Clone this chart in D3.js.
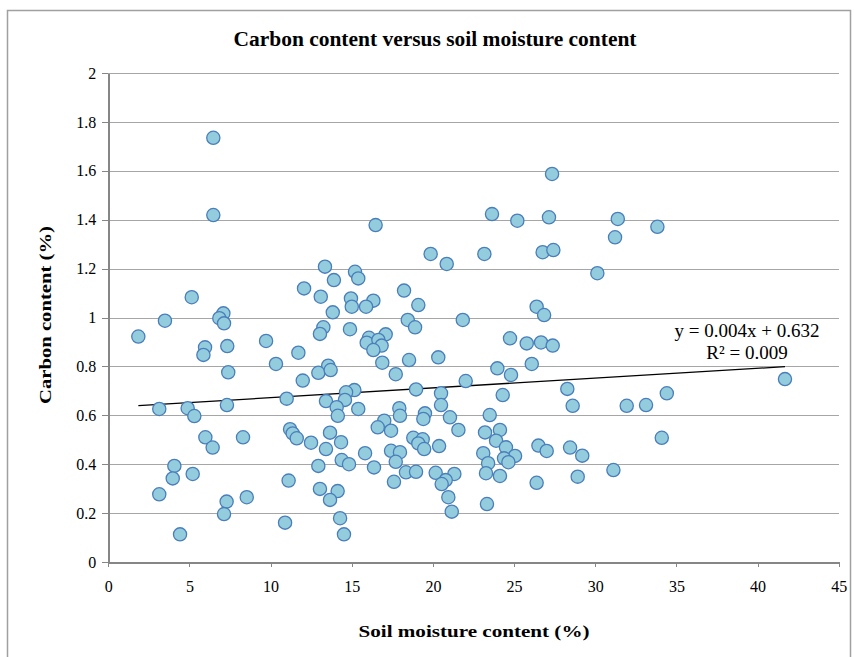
<!DOCTYPE html>
<html>
<head>
	<title>Carbon content versus soil moisture content</title>
	<meta charset="utf-8" />
	<script src="https://d3js.org/d3.v7.min.js"></script>
<style>
	body { margin: 0; background: #fff; }
	svg text { font-family: "Liberation Serif", "Times New Roman", Times, serif; fill: #000; }
	.grid line { stroke: #a6a6a6; stroke-width: 1; shape-rendering: crispEdges; }
	.grid path { stroke-width: 0; }
	.axis path, .axis line { stroke: #868686; shape-rendering: crispEdges; }
	.axis path { stroke-width: 2; }
</style>
</head>
<body>
<script>
// soil moisture (%) of each sample
var moisture = [6.47, 6.47, 5.14, 12.06, 16.47, 13.35, 15.2, 15.4, 13.9, 13.09,
	14.95, 16.33, 13.83, 15.0, 15.88, 18.22, 19.1, 19.86, 20.85, 23.17,
	23.64, 25.2, 27.34, 27.15, 26.76, 27.42, 31.39, 31.22, 33.83, 30.13,
	26.39, 26.85, 1.85, 3.49, 7.09, 6.84, 7.13, 5.96, 5.86, 7.33,
	7.39, 9.72, 10.33, 11.71, 11.98, 3.14, 4.89, 5.30, 7.31, 10.99,
	5.98, 6.43, 8.30, 11.2, 11.36, 11.61, 4.07, 3.97, 5.20, 3.14,
	7.29, 7.13, 8.53, 11.11, 10.89, 4.42, 18.45, 18.9, 21.84, 13.25,
	13.04, 14.89, 16.06, 15.92, 17.09, 16.64, 16.84, 16.33, 16.88, 18.53,
	20.33, 17.71, 13.55, 12.94, 13.70, 22.02, 18.96, 20.50, 20.50, 15.16,
	14.65, 14.58, 13.41, 14.07, 14.14, 15.40, 17.93, 17.97, 19.51, 19.41,
	21.05, 17.0, 16.6, 17.42, 21.57, 23.5, 23.21, 12.49, 13.66, 13.41,
	14.34, 15.82, 14.38, 14.83, 12.94, 16.37, 17.42, 17.97, 17.71, 18.79,
	19.37, 19.1, 19.46, 20.38, 23.1, 23.4, 23.27, 18.34, 18.96, 20.17,
	21.32, 20.79, 20.54, 17.6, 13.04, 14.13, 13.66, 20.95, 21.16, 14.28,
	14.52, 23.33, 24.75, 25.78, 26.66, 27.38, 23.97, 24.81, 26.09, 28.28,
	24.3, 28.61, 31.94, 33.13, 34.41, 24.13, 23.89, 24.5, 25.06, 24.38,
	24.65, 24.13, 26.5, 27.01, 28.45, 29.2, 26.39, 28.92, 31.12, 34.1,
	41.69];

// carbon content (%) of each sample
var carbon = [1.735, 1.419, 1.083, 1.119, 1.378, 1.208, 1.187, 1.160, 1.153, 1.085,
	1.078, 1.069, 1.021, 1.044, 1.044, 1.110, 1.051, 1.26, 1.219, 1.26,
	1.423, 1.396, 1.587, 1.41, 1.267, 1.276, 1.403, 1.328, 1.371, 1.181,
	1.044, 1.010, 0.922, 0.987, 1.017, 0.997, 0.976, 0.878, 0.847, 0.883,
	0.776, 0.904, 0.810, 0.856, 0.742, 0.626, 0.629, 0.597, 0.642, 0.668,
	0.510, 0.468, 0.510, 0.543, 0.526, 0.506, 0.393, 0.342, 0.360, 0.277,
	0.247, 0.196, 0.265, 0.333, 0.161, 0.113, 0.990, 0.960, 0.990, 0.960,
	0.933, 0.952, 0.917, 0.897, 0.931, 0.908, 0.885, 0.867, 0.815, 0.826,
	0.837, 0.768, 0.803, 0.774, 0.785, 0.740, 0.706, 0.690, 0.642, 0.703,
	0.694, 0.663, 0.658, 0.633, 0.598, 0.626, 0.629, 0.598, 0.608, 0.585,
	0.592, 0.578, 0.551, 0.537, 0.540, 0.601, 0.530, 0.488, 0.529, 0.462,
	0.490, 0.445, 0.417, 0.400, 0.393, 0.387, 0.455, 0.449, 0.410, 0.508,
	0.502, 0.485, 0.462, 0.474, 0.445, 0.404, 0.363, 0.367, 0.369, 0.365,
	0.360, 0.335, 0.319, 0.328, 0.299, 0.290, 0.254, 0.265, 0.206, 0.179,
	0.113, 0.237, 0.915, 0.894, 0.898, 0.885, 0.792, 0.765, 0.810, 0.708,
	0.683, 0.639, 0.639, 0.642, 0.690, 0.540, 0.496, 0.469, 0.434, 0.424,
	0.408, 0.352, 0.476, 0.454, 0.468, 0.435, 0.324, 0.349, 0.376, 0.508,
	0.748];

var xTicks = [0, 5, 10, 15, 20, 25, 30, 35, 40, 45];
var yTicks = [0, 0.2, 0.4, 0.6, 0.8, 1, 1.2, 1.4, 1.6, 1.8, 2];

// linear trend (Excel)
var slope = 0.004, intercept = 0.632, r2 = 0.009;

var serif = '"Liberation Serif", "Times New Roman", Times, serif';

var svg = d3.select("body")
	.append("svg")
	.attr("width", 854)
	.attr("height", 657);

// chart frame
svg.append("rect")
	.attr("x", 7.5).attr("y", 10.5)
	.attr("width", 843).attr("height", 700)
	.attr("fill", "#fff")
	.attr("stroke", "#a0a0a0")
	.attr("stroke-width", 1.5);

var margin = {top: 73, left: 108.3},
	width = 730.4,
	height = 489,
	g = svg.append("g").attr("transform", "translate(" + margin.left + "," + margin.top + ")");

var x = d3.scaleLinear().domain([0, 45]).range([0, width]);
var y = d3.scaleLinear().domain([0, 2]).range([height, 0]);

// horizontal grid lines
g.append("g")
	.attr("class", "grid")
	.call(d3.axisLeft(y).tickValues(yTicks).tickSize(-width).tickFormat(""));

// ejes
var yAxis = g.append("g")
	.attr("class", "axis")
	.attr("font-family", serif)
	.call(d3.axisLeft(y).tickValues(yTicks).tickSizeInner(6).tickSizeOuter(0).tickPadding(6)
		.tickFormat(function (d) { return String(+d.toFixed(1)); }));
yAxis.selectAll("text").style("font-size", "16px").style("font-family", serif);

var xAxis = g.append("g")
	.attr("class", "axis")
	.attr("font-family", serif)
	.attr("transform", "translate(0," + height + ")")
	.call(d3.axisBottom(x).tickValues(xTicks).tickSizeInner(5).tickSizeOuter(0).tickPadding(14));
xAxis.selectAll("text").style("font-size", "16px").style("font-family", serif);

// trend line
var xs = d3.extent(moisture);
g.append("line")
	.attr("x1", x(xs[0])).attr("y1", y(intercept + slope * xs[0]))
	.attr("x2", x(xs[1])).attr("y2", y(intercept + slope * xs[1]))
	.attr("stroke", "#000")
	.attr("stroke-width", 1.3);

// points
g.selectAll(".dot")
	.data(moisture)
	.enter().append("circle")
	.attr("class", "dot")
	.attr("cx", function (d) { return x(d); })
	.attr("cy", function (d, i) { return y(carbon[i]); })
	.attr("r", 6.6)
	.attr("fill", "#93cddd")
	.attr("stroke", "#4a7ebb")
	.attr("stroke-width", 1.3);

// equation
svg.append("text")
	.attr("x", 747).attr("y", 337)
	.attr("text-anchor", "middle")
	.style("font-family", serif)
	.style("font-size", "19px")
	.text("y = " + slope.toFixed(3) + "x + " + intercept.toFixed(3));
svg.append("text")
	.attr("x", 747).attr("y", 359)
	.attr("text-anchor", "middle")
	.style("font-family", serif)
	.style("font-size", "19px")
	.text("R² = " + r2.toFixed(3));

// titles
svg.append("text")
	.attr("x", 435).attr("y", 46)
	.attr("text-anchor", "middle")
	.attr("textLength", 403)
	.attr("lengthAdjust", "spacingAndGlyphs")
	.style("font-family", serif)
	.style("font-size", "20px")
	.style("font-weight", "bold")
	.text("Carbon content versus soil moisture content");

svg.append("text")
	.attr("x", 474).attr("y", 637)
	.attr("text-anchor", "middle")
	.attr("textLength", 231)
	.attr("lengthAdjust", "spacingAndGlyphs")
	.style("font-family", serif)
	.style("font-size", "17px")
	.style("font-weight", "bold")
	.text("Soil moisture content (%)");

svg.append("text")
	.attr("transform", "translate(51,315) rotate(-90)")
	.attr("text-anchor", "middle")
	.attr("textLength", 178)
	.attr("lengthAdjust", "spacingAndGlyphs")
	.style("font-family", serif)
	.style("font-size", "17px")
	.style("font-weight", "bold")
	.text("Carbon content (%)");
</script>
</body>
</html>
